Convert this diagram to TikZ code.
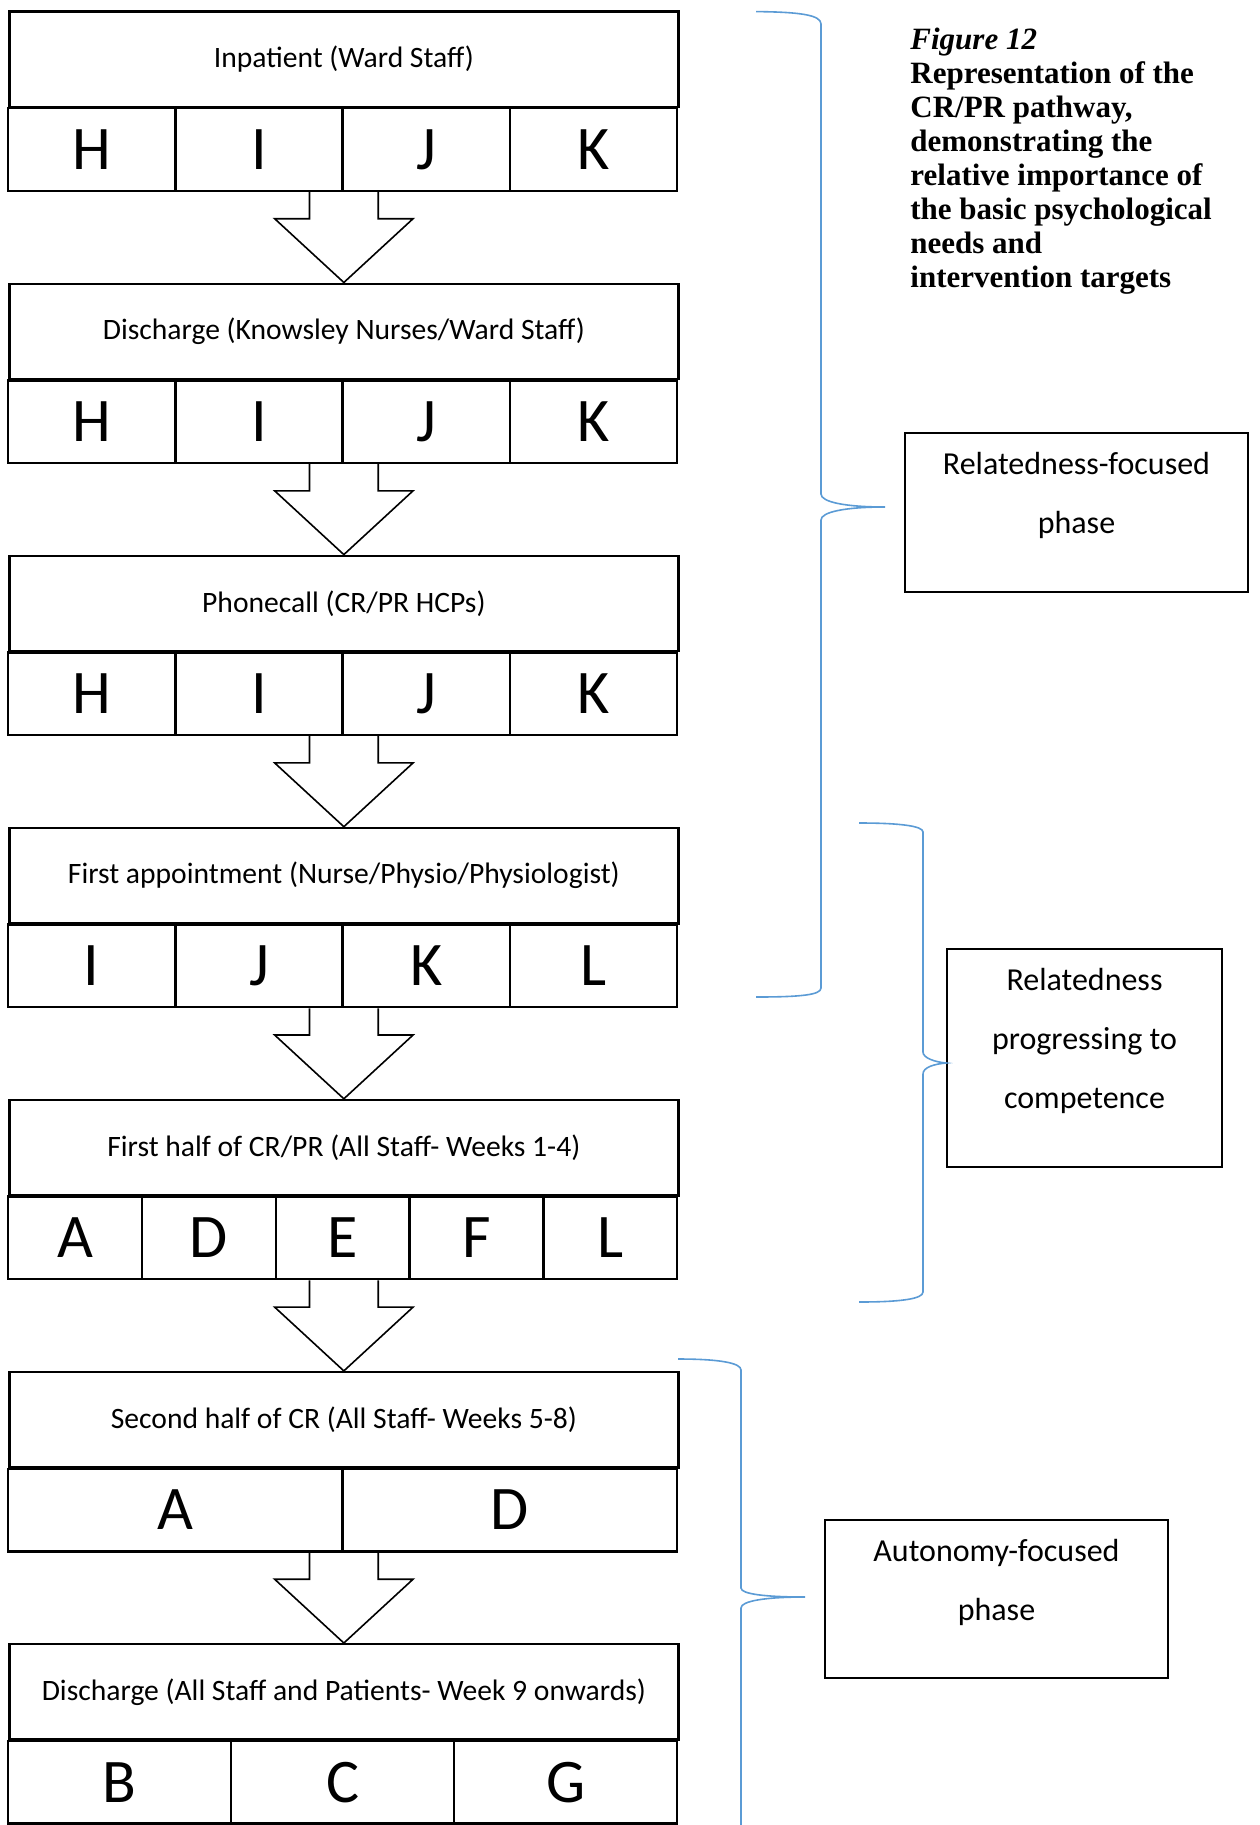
\documentclass[tikz,border=0pt]{standalone}
\usepackage{fontspec}
\setmainfont{Carlito}
\newfontfamily\capfont{Liberation Serif}
\usetikzlibrary{calc}
\definecolor{BraceBlue}{HTML}{5B9BD5}

\begin{document}
\begin{tikzpicture}[x=0.5pt,y=-0.5pt,
  stage/.style={draw,line width=1.2pt,minimum width=334.5pt,minimum height=47.7pt,inner sep=0pt,font=\fontsize{14.8}{17}\selectfont},
  cell/.style={draw,line width=1.2pt,minimum height=41.3pt,inner sep=0pt,font=\fontsize{31}{34}\selectfont},
  blockarr/.style={draw,line width=0.8pt,line join=miter},
  phase/.style={draw,line width=1pt,inner sep=0pt,anchor=north west},
  phasetext/.style={align=center,inner sep=0pt,anchor=north,font=\fontsize{16}{29.5}\selectfont},
  brace/.style={draw=BraceBlue,line width=0.8pt}]
  \useasboundingbox (0,0) rectangle (1259,1825);
  % pathway stages: who delivers it, then the needs/targets in play
  \foreach \i/\n/\lab/\cells in {
      1/4/{Inpatient (Ward Staff)}/{H,I,J,K},
      2/4/{Discharge (Knowsley Nurses/Ward Staff)}/{H,I,J,K},
      3/4/{Phonecall (CR/PR HCPs)}/{H,I,J,K},
      4/4/{First appointment (Nurse/Physio/Physiologist)}/{I,J,K,L},
      5/5/{First half of CR/PR (All Staff- Weeks 1-4)}/{A,D,E,F,L},
      6/2/{Second half of CR (All Staff- Weeks 5-8)}/{A,D},
      7/3/{Discharge (All Staff and Patients- Week 9 onwards)}/{B,C,G}}{
    \node[stage] (lab\i) at (343.85,{59.3+272.1*(\i-1)}) {\lab};
    \foreach \c [count=\j] in \cells {
      \node[cell,minimum width=334.5pt/\n] (c\i-\j)
        at ($(lab\i.south west)+({(\j-0.5)*669/\n},41.3)$) {\c};
    }
  }
  % block arrows between stages
  \foreach \i [count=\k from 2] in {1,...,6}{
    \coordinate (t\i) at (lab\i.south |- c\i-1.south);
    \draw[blockarr] ($(t\i)+(-34.4,0)$) -- ($(t\i)+(-34.4,26.7)$) -- ($(t\i)+(-69.2,26.7)$)
      -- (lab\k.north) -- ($(t\i)+(69.2,26.7)$) -- ($(t\i)+(34.4,26.7)$) -- ($(t\i)+(34.4,0)$);
  }
  % caption
  \node[anchor=north west,align=left,inner sep=0pt,font=\capfont\bfseries\fontsize{15.5}{17}\selectfont]
    (caption) at (910,28) {\textit{Figure 12}\\Representation of the\\CR/PR pathway,\\demonstrating the\\relative importance of\\the basic psychological\\needs and\\intervention targets};
  % phases
  \node[phase,minimum width=171.5pt,minimum height=79.5pt] (relbox) at (904,432) {};
  \node[phasetext] (reltext) at ($(relbox.north)+(0,20)$) {Relatedness-focused\\phase};
  \node[phase,minimum width=137.5pt,minimum height=109pt] (compbox) at (946,948) {};
  \node[phasetext] (comptext) at ($(compbox.north)+(0,20)$) {Relatedness\\progressing to\\competence};
  \node[phase,minimum width=171.5pt,minimum height=79.25pt] (autbox) at (824,1518.5) {};
  \node[phasetext] (auttext) at ($(autbox.north)+(0,20)$) {Autonomy-focused\\phase};
  % braces
  \draw[brace] (756,11.6) .. controls (800,12) and (821,15) .. (821,24) -- (821,494)
    .. controls (821,502) and (845,507) .. (885,507) .. controls (845,507) and (821,512) .. (821,520)
    -- (821,988) .. controls (821,995) and (800,997) .. (756,997);
  \draw[brace] (859,823) .. controls (900,823) and (923,826) .. (923,832) -- (923,1052)
    .. controls (923,1058) and (935,1062) .. (946,1063) .. controls (935,1064) and (923,1067) .. (923,1074)
    -- (923,1292) .. controls (923,1299) and (900,1302) .. (859,1302);
  \draw[brace] (678,1359) .. controls (720,1359) and (741,1363) .. (741,1370) -- (741,1588)
    .. controls (741,1594) and (765,1597) .. (805,1597) .. controls (765,1597) and (741,1601) .. (741,1608)
    -- (741,1830);
\end{tikzpicture}
\end{document}
